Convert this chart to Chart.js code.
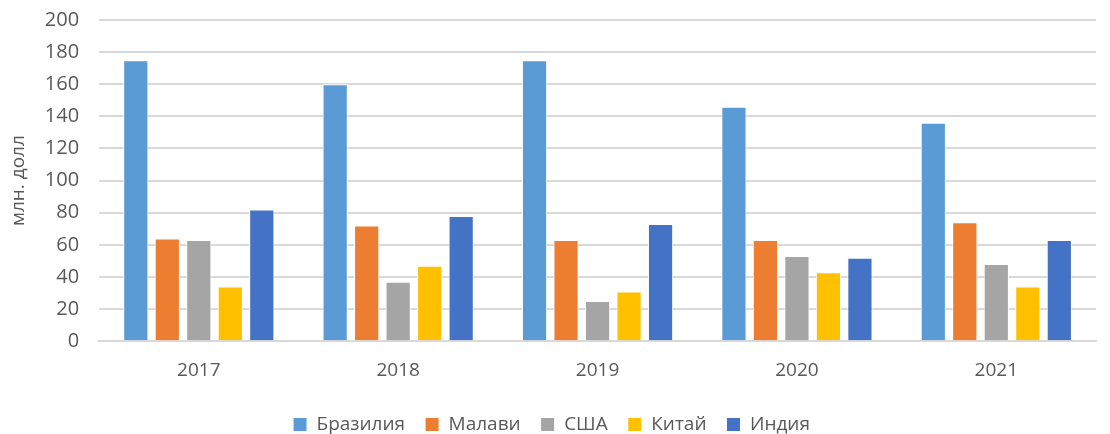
<!DOCTYPE html>
<html>
<head>
<meta charset="utf-8">
<script src="https://cdn.jsdelivr.net/npm/chart.js@4"></script>
<style>
  html, body { margin: 0; padding: 0; background: #fff; }
  #wrap { width: 1110px; height: 434px; }
</style>
</head>
<body>
<div id="wrap"><canvas id="chart"></canvas></div>
<script>
var years = ["2017", "2018", "2019", "2020", "2021"];
var brazil = [175, 160, 175, 146, 136];
var malawi = [64, 72, 63, 63, 74];
var usa = [63, 37, 25, 53, 48];
var china = [34, 47, 31, 43, 34];
var india = [82, 78, 73, 52, 63];

Chart.defaults.font.family = "'Open Sans', sans-serif";
Chart.defaults.color = "#595959";

function ds(label, data, color) {
  return {
    label: label,
    data: data,
    backgroundColor: color,
    borderColor: "#ffffff",
    borderWidth: 1,
    categoryPercentage: 0.79,
    barPercentage: 0.8
  };
}

var ctx = document.getElementById("chart");
var myChart = new Chart(ctx, {
  type: 'bar',
  data: {
    labels: years,
    datasets: [
      ds("Бразилия", brazil, "#5b9bd5"),
      ds("Малави", malawi, "#ed7d31"),
      ds("США", usa, "#a5a5a5"),
      ds("Китай", china, "#ffc000"),
      ds("Индия", india, "#4472c4")
    ]
  },
  options: {
    responsive: true,
    maintainAspectRatio: false,
    animation: false,
    layout: { padding: { top: 0, right: 14, left: 7, bottom: -10 } },
    scales: {
      x: {
        grid: { display: false },
        border: { color: "#d9d9d9", width: 2 },
        ticks: { font: { size: 19 }, padding: 10 },
        afterFit: function(scale) { scale.height += 3; }
      },
      y: {
        min: 0,
        max: 200,
        ticks: { stepSize: 20, font: { size: 20 }, padding: 8 },
        grid: { color: "#d9d9d9", lineWidth: 2, tickLength: 12, tickColor: "rgba(0,0,0,0)" },
        border: { display: false },
        title: {
          display: true,
          text: "млн. долл",
          font: { size: 19 },
          padding: { top: 0, bottom: 7 }
        }
      }
    },
    plugins: {
      legend: {
        position: 'bottom',
        labels: {
          font: { size: 19 },
          boxWidth: 14,
          boxHeight: 14,
          padding: 20
        }
      },
      tooltip: { enabled: false }
    }
  }
});
</script>
</body>
</html>
